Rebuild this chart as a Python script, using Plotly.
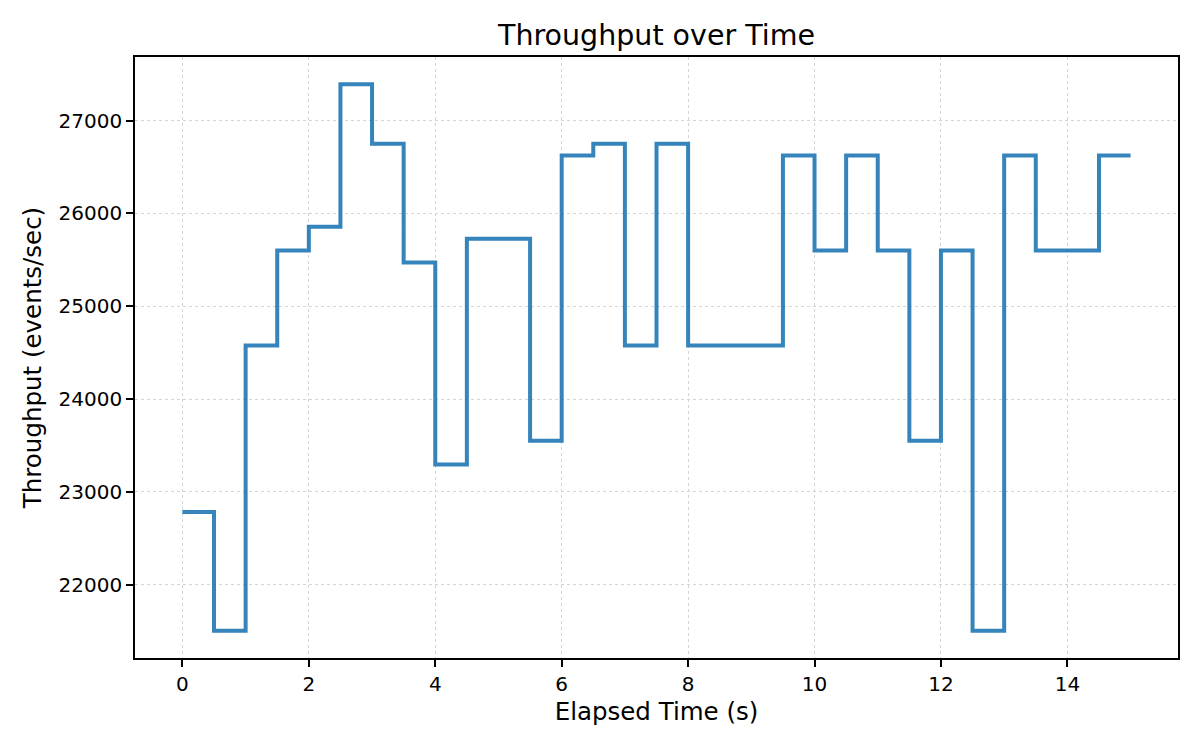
import plotly.graph_objects as go

elapsed = [0, 0.5, 1, 1.5, 2, 2.5, 3, 3.5, 4, 4.5, 5, 5.5, 6, 6.5, 7, 7.5,
           8, 8.5, 9, 9.5, 10, 10.5, 11, 11.5, 12, 12.5, 13, 13.5, 14, 14.5, 15]
throughput = [22784, 21504, 24576, 25600, 25856, 27392, 26752, 25472,
              23296, 25728, 25728, 23552, 26624, 26752, 24576, 26752,
              24576, 24576, 24576, 26624, 25600, 26624, 25600, 23552,
              25600, 21504, 26624, 25600, 25600, 26624, 26624]

FONT = "DejaVu Sans"

x_span = max(elapsed) - min(elapsed)
y_span = max(throughput) - min(throughput)
x_range = [min(elapsed) - 0.05 * x_span, max(elapsed) + 0.05 * x_span]
y_range = [min(throughput) - 0.05 * y_span, max(throughput) + 0.05 * y_span]

fig = go.Figure()
fig.add_trace(go.Scatter(x=elapsed, y=throughput,
                         mode='lines',
                         line=dict(shape='hv', color='rgba(31,119,180,0.9)', width=4),
                         showlegend=False))

axis_common = dict(showline=True, mirror=True, linecolor='black', linewidth=1.7,
                   ticks='outside', ticklen=7, tickwidth=1.7, tickcolor='black',
                   showgrid=True, gridcolor='#d4d4d4', griddash='dot',
                   gridwidth=1.3, zeroline=False,
                   tickfont=dict(family=FONT, size=20, color='black'))

fig.update_xaxes(range=x_range, dtick=2, tick0=0,
                 title=dict(text='Elapsed Time (s)', standoff=8,
                            font=dict(family=FONT, size=24.5, color='black')),
                 **axis_common)
fig.update_yaxes(range=y_range, dtick=1000, tick0=0, tickformat='d',
                 title=dict(text='Throughput (events/sec)', standoff=10,
                            font=dict(family=FONT, size=24.5, color='black')),
                 **axis_common)

# the page puts the figure 8px in from the top-left corner
fig.update_layout(
    width=1200, height=750,
    margin=dict(l=127, r=30, t=49, b=100),
    paper_bgcolor='white', plot_bgcolor='white',
    font=dict(family=FONT, color='black'),
    title=dict(text='Throughput over Time', x=0.5, xref='paper', xanchor='center',
               y=1, yref='paper', yanchor='bottom', pad=dict(b=12),
               font=dict(family=FONT, size=28.5, color='black')),
)

fig.write_html("out.html")
